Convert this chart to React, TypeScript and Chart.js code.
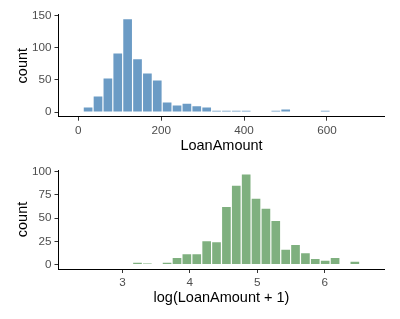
import React, { useEffect, useRef } from "react";
import { Chart, registerables } from "chart.js";

Chart.register(...registerables);

// Top histogram: LoanAmount (bin centres, counts)
const loanBinCenters = [
  0, 23.8, 47.7, 71.5, 95.3, 119.1, 143.0, 166.8, 190.6, 214.4,
  238.3, 262.1, 285.9, 309.8, 333.6, 357.4, 381.2, 405.1, 428.9, 452.7,
  476.6, 500.4, 524.2, 548.0, 571.9, 595.7, 619.5, 643.4, 667.2, 691.0,
];
const loanCounts = [
  0, 7, 24, 52, 91, 144, 82, 60, 49, 15,
  10, 13, 9, 7, 2, 2, 2, 2, 0, 0,
  2, 4, 0, 0, 0, 2, 0, 0, 0, 0,
];
const loanXTicks = [0, 200, 400, 600];
const loanYTicks = [0, 50, 100, 150];

// Bottom histogram: log(LoanAmount + 1)
const logBinCenters = [
  2.345, 2.491, 2.638, 2.784, 2.931, 3.077, 3.224, 3.37, 3.517, 3.663,
  3.81, 3.956, 4.103, 4.25, 4.396, 4.543, 4.689, 4.836, 4.982, 5.129,
  5.275, 5.422, 5.568, 5.715, 5.861, 6.008, 6.155, 6.301, 6.448, 6.594,
];
const logCounts = [
  0, 0, 0, 0, 0, 0, 2, 1, 0, 2,
  7, 11, 11, 25, 24, 62, 85, 97, 71, 60,
  47, 16, 21, 12, 6, 4, 7, 0, 3, 0,
];
const logXTicks = [3, 4, 5, 6];
const logYTicks = [0, 25, 50, 75, 100];

const FONT = "'Liberation Sans', Arial, sans-serif";

type Spec = {
  centers: number[];
  counts: number[];
  xTicks: number[];
  yTicks: number[];
  xMin: number;
  xMax: number;
  yMin: number;
  yMax: number;
  color: string;
  xTitle: string;
  padTop: number;
  xAxisHeight: number;
  xTitlePad: number;
};

function buildConfig(s: Spec): any {
  return {
    type: "bar",
    data: {
      datasets: [
        {
          data: s.centers.map((x, i) => ({ x, y: s.counts[i] })),
          backgroundColor: s.color,
          borderWidth: 0,
          barPercentage: 0.88,
          categoryPercentage: 1,
        },
      ],
    },
    options: {
      responsive: false,
      animation: false,
      devicePixelRatio: 1,
      layout: { padding: { top: s.padTop, right: 15.5, left: 0, bottom: 0 } },
      plugins: { legend: { display: false }, tooltip: { enabled: false } },
      scales: {
        x: {
          type: "linear",
          min: s.xMin,
          max: s.xMax,
          offset: false,
          afterBuildTicks: (scale: any) => {
            scale.ticks = s.xTicks.map((v) => ({ value: v }));
          },
          afterFit: (scale: any) => {
            scale.height = s.xAxisHeight;
          },
          grid: {
            display: true,
            offset: false,
            drawOnChartArea: false,
            drawTicks: true,
            tickLength: 4,
            color: "#333333",
            lineWidth: 1,
          },
          border: { display: true, color: "#000000", width: 1 },
          ticks: {
            color: "#4d4d4d",
            padding: 3,
            maxRotation: 0,
            font: { family: FONT, size: 11.7 },
          },
          title: {
            display: true,
            text: s.xTitle,
            color: "#000000",
            font: { family: FONT, size: 14.5 },
            padding: { top: 0, bottom: s.xTitlePad },
          },
        },
        y: {
          type: "linear",
          min: s.yMin,
          max: s.yMax,
          afterBuildTicks: (scale: any) => {
            scale.ticks = s.yTicks.map((v) => ({ value: v }));
          },
          afterFit: (scale: any) => {
            scale.width = 58.5;
          },
          grid: {
            display: true,
            drawOnChartArea: false,
            drawTicks: true,
            tickLength: 4,
            color: "#333333",
            lineWidth: 1,
          },
          border: { display: true, color: "#000000", width: 1 },
          ticks: {
            color: "#4d4d4d",
            padding: 3,
            font: { family: FONT, size: 11.7 },
          },
          title: {
            display: true,
            text: "count",
            color: "#000000",
            font: { family: FONT, size: 14.5 },
            padding: { top: 14.3, bottom: 0 },
          },
        },
      },
    },
  };
}

function Hist({ spec, height }: { spec: Spec; height: number }) {
  const ref = useRef<HTMLCanvasElement | null>(null);
  useEffect(() => {
    if (!ref.current) return;
    const chart = new Chart(ref.current, buildConfig(spec));
    return () => chart.destroy();
  }, [spec]);
  return (
    <canvas
      ref={ref}
      width={400}
      height={height}
      style={{ display: "block", width: 400, height }}
    />
  );
}

const topSpec: Spec = {
  centers: loanBinCenters,
  counts: loanCounts,
  xTicks: loanXTicks,
  yTicks: loanYTicks,
  xMin: -47.6,
  xMax: 738.7,
  yMin: -7.2,
  yMax: 151.2,
  color: "#6b9bc5",
  xTitle: "LoanAmount",
  padTop: 14.7,
  xAxisHeight: 43.3,
  xTitlePad: 5.8,
};

const bottomSpec: Spec = {
  centers: logBinCenters,
  counts: logCounts,
  xTicks: logXTicks,
  yTicks: logYTicks,
  xMin: 2.052,
  xMax: 6.888,
  yMin: -4.85,
  yMax: 101.85,
  color: "#7fb07f",
  xTitle: "log(LoanAmount + 1)",
  padTop: 7.3,
  xAxisHeight: 50,
  xTitlePad: 12.6,
};

export default function App() {
  return (
    <div
      style={{
        position: "absolute",
        left: 0,
        top: 0,
        width: 400,
        height: 319,
        background: "#ffffff",
      }}
    >
      <Hist spec={topSpec} height={160} />
      <Hist spec={bottomSpec} height={159} />
    </div>
  );
}
